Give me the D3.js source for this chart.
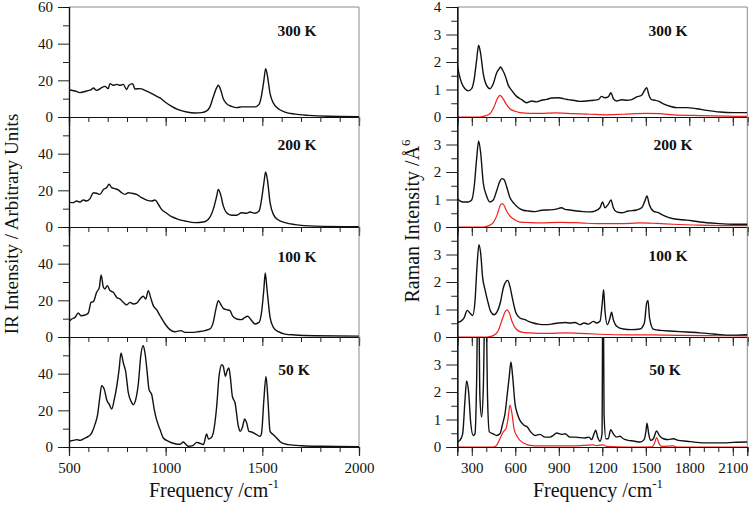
<!DOCTYPE html>
<html>
<head>
<meta charset="utf-8">
<script src="https://cdn.jsdelivr.net/npm/d3@7"></script>
<style>
  body { margin: 0; background: #fff; }
</style>
</head>
<body>
<svg id="chart" width="750" height="510"></svg>
<script>
const fontFamily = `"Liberation Serif", "Times New Roman", Times, serif`;

// temperatures, top to bottom
const temps = ["300 K", "200 K", "100 K", "50 K"];

// IR spectra [frequency cm-1, intensity arb. units]
const ir300 = [[500,14.9],[531,14.2],[557,13.3],[591,14.2],[617,15.1],[626,15.8],[643,14.5],[669,16],[686,16.7],[703,15.5],[712,18.2],[729,17.3],[747,17.8],[764,17.3],[781,17.8],[798,15],[810,17.3],[829,18.2],[841,15.3],[867,15.5],[893,14.5],[919,13.3],[945,11.8],[971,10.4],[997,8.2],[1031,5.8],[1065,4],[1109,2.7],[1152,2.2],[1186,2.4],[1212,3.3],[1229,5.5],[1246,10.9],[1264,16],[1272,17.3],[1284,15],[1298,10],[1315,7.3],[1341,5.8],[1367,5.1],[1393,5.5],[1427,5.5],[1462,5.5],[1483,6.9],[1496,11.8],[1508,20],[1517,26.4],[1526,22.7],[1540,12.7],[1557,7.6],[1583,4.5],[1617,2.7],[1669,1.6],[1738,0.9],[1841,0.4],[2000,0.2]];
const ir200 = [[500,13.6],[522,13.3],[540,14.2],[557,13.6],[574,14.7],[591,14.2],[609,15.5],[626,18.7],[643,18.4],[660,17.8],[678,20.5],[695,21.5],[707,23.3],[721,21.5],[738,20.9],[755,20.2],[772,18.7],[790,17.8],[807,18.7],[824,18.4],[850,17.8],[876,16],[902,14.7],[928,14.2],[945,14.7],[962,12.4],[979,9.6],[1005,7.5],[1031,5.6],[1065,4.2],[1100,3.3],[1152,2.4],[1195,2.7],[1221,4.2],[1246,9.6],[1264,16.9],[1272,20.5],[1284,17.8],[1298,11.5],[1315,7.8],[1341,6.4],[1367,6.4],[1393,7.8],[1419,7.5],[1436,8.2],[1462,7.5],[1483,8.7],[1496,15],[1508,24],[1517,30],[1526,26],[1540,13.3],[1557,6.9],[1583,3.8],[1617,2.4],[1669,1.3],[1772,0.5],[2000,0.2]];
const ir100 = [[500,8.4],[514,9.8],[531,10.7],[548,13.1],[562,11.6],[583,12],[600,13.1],[614,18.9],[626,19.3],[643,24.4],[657,27.1],[666,33.8],[678,27.1],[686,26.2],[698,28],[712,25.3],[729,24.4],[747,21.6],[764,20.7],[781,18.9],[798,17.5],[815,18.9],[833,18],[850,18.5],[867,20.7],[884,22.2],[897,20.7],[910,25.3],[922,21.6],[936,17.1],[953,14.9],[971,11.6],[997,7.1],[1022,4],[1048,2.9],[1079,3.5],[1100,2.5],[1134,2.5],[1169,2.9],[1203,3.5],[1229,4.4],[1246,8],[1260,15.3],[1272,19.8],[1284,18],[1298,15.6],[1315,14.9],[1333,14.4],[1345,11.6],[1367,9.8],[1393,9.5],[1410,10.7],[1424,11.3],[1445,8.9],[1462,7.1],[1483,8],[1496,13.5],[1508,26.2],[1515,34.9],[1524,26.2],[1540,10.7],[1557,5.3],[1583,2.9],[1617,1.6],[1669,1.1],[1772,0.7],[2000,0.5]];
const ir50 = [[500,3.1],[522,3.6],[540,4],[557,3.6],[583,4.9],[600,5.8],[617,7.6],[634,12.2],[648,17.6],[660,27.6],[669,33.5],[683,31.3],[695,25.8],[709,23.1],[721,20.7],[734,25.8],[747,33.1],[759,42.2],[769,51.3],[781,45.8],[793,41.3],[807,29.5],[821,24.9],[833,23.1],[845,25.8],[859,34.9],[872,50.4],[884,55.3],[893,51.3],[903,42.2],[914,31.3],[928,28.5],[941,20.4],[953,14.9],[971,9.5],[988,4.9],[1014,3.1],[1048,1.8],[1074,1.5],[1091,2.7],[1103,1.6],[1117,0.4],[1143,0.9],[1160,2.5],[1172,2.2],[1195,1.3],[1212,7.1],[1221,4.4],[1234,4.9],[1246,7.6],[1264,22.2],[1276,38.5],[1290,44.9],[1298,44],[1309,38.5],[1317,41.3],[1327,43.1],[1334,38.5],[1345,27.6],[1359,24],[1376,11.3],[1386,8.5],[1396,10.4],[1409,15.3],[1419,13.1],[1431,8.5],[1445,8.2],[1462,7.3],[1488,5.8],[1496,7.6],[1508,25.8],[1519,38.5],[1529,25.8],[1540,8.5],[1557,6.7],[1574,4.9],[1600,2.2],[1634,1.3],[1703,0.7],[1807,0.4],[2000,0.2]];

// Raman spectra [frequency cm-1, intensity Å^6], black = total, red = component
const raman300 = [[200,1.88],[214,1.52],[232,1.21],[253,1.03],[276,0.95],[299,1.03],[315,1.33],[333,2.06],[347,2.61],[361,2.3],[379,1.58],[402,1.15],[425,1.03],[448,1.21],[471,1.6],[490,1.76],[499,1.82],[513,1.7],[529,1.52],[552,1.15],[575,0.97],[609,0.75],[644,0.63],[678,0.52],[713,0.58],[747,0.55],[782,0.61],[816,0.64],[851,0.69],[897,0.7],[931,0.67],[966,0.63],[1000,0.61],[1046,0.57],[1092,0.58],[1138,0.61],[1172,0.63],[1195,0.75],[1218,0.7],[1241,0.73],[1260,0.88],[1276,0.67],[1299,0.58],[1333,0.63],[1368,0.61],[1402,0.63],[1437,0.73],[1471,0.79],[1494,0.99],[1506,1.07],[1522,0.79],[1540,0.63],[1563,0.61],[1586,0.58],[1621,0.48],[1667,0.39],[1713,0.34],[1782,0.34],[1851,0.3],[1920,0.24],[2012,0.18],[2104,0.16],[2200,0.16]];
const raman300Red = [[200,0],[356,0],[391,0.04],[425,0.12],[453,0.36],[476,0.67],[494,0.79],[513,0.69],[536,0.48],[563,0.3],[598,0.21],[632,0.16],[701,0.13],[770,0.13],[885,0.15],[1000,0.12],[1115,0.1],[1230,0.08],[1345,0.1],[1506,0.13],[1598,0.12],[1690,0.08],[1874,0.05],[2200,0.02]];
const raman200 = [[200,1.03],[218,0.95],[241,0.91],[276,0.91],[299,0.98],[317,1.49],[333,2.46],[347,3.13],[361,2.7],[379,1.61],[402,1.13],[425,0.91],[448,0.98],[471,1.31],[494,1.67],[508,1.76],[522,1.73],[540,1.47],[563,1.07],[591,0.86],[621,0.7],[655,0.61],[690,0.58],[736,0.56],[782,0.61],[828,0.62],[874,0.64],[920,0.7],[943,0.64],[977,0.62],[1023,0.58],[1069,0.56],[1115,0.55],[1149,0.58],[1184,0.7],[1202,0.91],[1218,0.7],[1241,0.82],[1260,0.98],[1276,0.7],[1299,0.55],[1333,0.52],[1379,0.58],[1437,0.62],[1471,0.7],[1494,0.95],[1508,1.13],[1524,0.82],[1552,0.58],[1586,0.52],[1621,0.42],[1690,0.3],[1782,0.25],[1874,0.18],[1989,0.13],[2104,0.1],[2200,0.1]];
const raman200Red = [[200,0],[379,0],[414,0.04],[448,0.16],[476,0.46],[494,0.76],[508,0.85],[522,0.79],[540,0.58],[563,0.4],[591,0.28],[632,0.18],[701,0.16],[770,0.15],[908,0.17],[1046,0.15],[1184,0.12],[1322,0.12],[1460,0.15],[1575,0.13],[1690,0.1],[1874,0.07],[2200,0.05]];
const raman100 = [[200,0.53],[223,0.57],[246,0.69],[269,0.97],[287,0.87],[306,0.78],[322,1.3],[336,2.57],[349,3.36],[361,3.05],[375,2.15],[391,1.72],[407,1.36],[430,0.93],[453,0.81],[476,0.93],[499,1.3],[517,1.78],[536,2.02],[547,2.06],[563,1.84],[582,1.36],[605,0.87],[632,0.69],[667,0.63],[690,0.57],[724,0.51],[759,0.47],[805,0.45],[851,0.47],[897,0.51],[943,0.53],[977,0.51],[1012,0.53],[1046,0.45],[1074,0.51],[1104,0.47],[1138,0.57],[1161,0.51],[1184,0.57],[1200,1.24],[1209,1.72],[1218,0.99],[1235,0.45],[1253,0.69],[1264,0.9],[1276,0.63],[1299,0.39],[1345,0.29],[1402,0.27],[1460,0.29],[1490,0.51],[1506,1.24],[1515,1.33],[1526,0.69],[1552,0.29],[1598,0.24],[1690,0.21],[1782,0.18],[1874,0.15],[1966,0.11],[2058,0.07],[2127,0.07],[2200,0.08]];
const raman100Red = [[200,0],[402,0],[448,0.05],[483,0.24],[513,0.69],[531,0.93],[543,0.99],[559,0.87],[577,0.57],[605,0.29],[644,0.18],[701,0.15],[816,0.13],[954,0.15],[1046,0.13],[1184,0.1],[1368,0.08],[1552,0.08],[1736,0.06],[1920,0.05],[2200,0.04]];
const raman50 = [[200,0.18],[218,0.24],[237,0.48],[253,1.7],[264,2.4],[278,2],[292,0.91],[310,0.42],[322,0.48],[333,2.3],[345,7],[356,1.82],[368,1.09],[379,2.06],[395,6.5],[409,1.7],[421,0.55],[448,0.48],[471,0.42],[494,0.48],[513,0.85],[529,1.21],[545,1.94],[559,2.6],[570,3.09],[582,2.55],[598,1.58],[614,1.21],[632,0.97],[660,0.79],[683,0.73],[706,0.55],[736,0.42],[770,0.46],[805,0.36],[839,0.36],[862,0.42],[885,0.51],[920,0.46],[943,0.48],[977,0.36],[1012,0.36],[1046,0.34],[1081,0.33],[1108,0.36],[1126,0.27],[1143,0.48],[1154,0.61],[1168,0.36],[1184,0.21],[1198,0.48],[1205,7.5],[1212,1.2],[1225,0.3],[1241,0.3],[1258,0.63],[1276,0.48],[1299,0.36],[1322,0.39],[1345,0.3],[1379,0.24],[1414,0.22],[1460,0.18],[1488,0.27],[1502,0.61],[1508,0.87],[1520,0.48],[1533,0.24],[1552,0.3],[1575,0.58],[1593,0.42],[1621,0.3],[1655,0.27],[1690,0.3],[1724,0.24],[1782,0.21],[1851,0.17],[1920,0.15],[2035,0.15],[2104,0.17],[2200,0.18]];
const raman50Red = [[200,0],[448,0],[471,0.06],[494,0.3],[517,0.55],[536,0.67],[550,1.03],[563,1.52],[577,1.21],[591,0.67],[609,0.42],[632,0.24],[667,0.12],[701,0.06],[770,0.04],[1000,0.04],[1138,0.08],[1161,0.05],[1205,0.08],[1230,0.02],[1368,0],[1540,0.01],[1559,0.12],[1575,0.34],[1589,0.15],[1609,0.02],[1690,0.04],[1713,0],[2200,0]];

// tick values
const irTicksX = [500, 1000, 1500, 2000];
const irTicksY = [0, 20, 40, 60];
const ramanTicksX = [300, 600, 900, 1200, 1500, 1800, 2100];
const ramanTicksY = [0, 1, 2, 3, 4];

// layout
const panelTops = [7, 117, 227, 337];
const panelH = 110;
const plotW = 290;

const irLabelPos = [[297, 36], [297, 150], [297, 262], [294, 375]];
const ramanLabelPos = [[668, 36], [673, 150], [668, 261], [665, 375]];

const svg = d3.select("#chart").attr("font-family", fontFamily);

const charts = [
  {
    id: "ir",
    left: 69,
    xDomain: [500, 2000],
    yMax: 60,
    xMajor: irTicksX,
    xMinor: d3.range(500, 2001, 100),
    yMajor: irTicksY,
    yMinor: d3.range(10, 60, 20),
    black: [ir300, ir200, ir100, ir50],
    red: null,
    labelPos: irLabelPos,
  },
  {
    id: "raman",
    left: 457.3,
    xDomain: [200, 2200],
    yMax: 4,
    xMajor: ramanTicksX,
    xMinor: d3.range(200, 2201, 100),
    yMajor: ramanTicksY,
    yMinor: d3.range(0.5, 4, 1),
    black: [raman300, raman200, raman100, raman50],
    red: [raman300Red, raman200Red, raman100Red, raman50Red],
    labelPos: ramanLabelPos,
  },
];

charts.forEach(renderChart);
renderTitles();

function renderChart(c) {
  const x = d3.scaleLinear().domain(c.xDomain).range([c.left, c.left + plotW]);
  const g = svg.append("g").attr("id", c.id);

  panelTops.forEach((top, i) => {
    const bottom = top + panelH;
    const y = d3.scaleLinear().domain([0, c.yMax]).range([bottom, top]);
    const isLast = i === panelTops.length - 1;
    const clipId = `clip-${c.id}-${i}`;

    g.append("clipPath")
      .attr("id", clipId)
      .append("rect")
      .attr("x", c.left)
      .attr("y", top)
      .attr("width", plotW)
      .attr("height", panelH);

    const panel = g.append("g").attr("class", "panel");

    // frame: right (and top for first panel) in grey
    panel
      .append("line")
      .attr("x1", c.left + plotW)
      .attr("x2", c.left + plotW)
      .attr("y1", top)
      .attr("y2", bottom)
      .attr("stroke", "#8a8a8a")
      .attr("stroke-width", 1);
    if (i === 0) {
      panel
        .append("line")
        .attr("x1", c.left)
        .attr("x2", c.left + plotW)
        .attr("y1", top)
        .attr("y2", top)
        .attr("stroke", "#8a8a8a")
        .attr("stroke-width", 1);
    }

    // spectra
    const line = d3
      .line()
      .x((d) => x(d[0]))
      .y((d) => y(d[1]))
      .curve(d3.curveMonotoneX);

    const curves = panel.append("g").attr("clip-path", `url(#${clipId})`);
    if (c.red) {
      curves
        .append("path")
        .datum(c.red[i])
        .attr("fill", "none")
        .attr("stroke", "#f02020")
        .attr("stroke-width", 1.2)
        .attr("d", line);
    }
    curves
      .append("path")
      .datum(c.black[i])
      .attr("fill", "none")
      .attr("stroke", "#111")
      .attr("stroke-width", 1.4)
      .attr("stroke-linejoin", "round")
      .attr("d", line);

    // y axis
    const yLabels = i === 0 ? c.yMajor : c.yMajor.slice(0, -1);
    const yAxis = panel
      .append("g")
      .attr("transform", `translate(${c.left},0)`)
      .call(
        d3.axisLeft(y).tickValues(c.yMajor).tickSize(11).tickPadding(5)
          .tickFormat((d) => (yLabels.includes(d) ? d : ""))
      );
    panel
      .append("g")
      .attr("transform", `translate(${c.left},0)`)
      .call(d3.axisLeft(y).tickValues(c.yMinor).tickSize(6).tickFormat(""));

    // x axis (outward ticks at the bottom of every panel)
    const xAxis = panel
      .append("g")
      .attr("transform", `translate(0,${bottom})`)
      .call(
        d3.axisBottom(x).tickValues(c.xMajor).tickSize(9).tickPadding(6)
          .tickFormat((d) => (isLast ? d : ""))
      );
    panel
      .append("g")
      .attr("transform", `translate(0,${bottom})`)
      .call(d3.axisBottom(x).tickValues(c.xMinor).tickSize(5).tickFormat(""));

    panel.selectAll(".domain").attr("stroke", "#111").attr("stroke-width", 1.2);
    panel.selectAll(".tick line").attr("stroke", "#222");
    panel
      .selectAll(".tick text")
      .attr("font-family", fontFamily)
      .attr("font-size", 15)
      .attr("fill", "#111");

    // temperature label
    const [lx, ly] = c.labelPos[i];
    panel
      .append("text")
      .attr("x", lx)
      .attr("y", ly)
      .attr("text-anchor", "middle")
      .attr("font-weight", "bold")
      .attr("font-size", 15.5)
      .attr("fill", "#111")
      .text(temps[i]);
  });
}

function renderTitles() {
  const titles = svg.append("g").attr("id", "titles").attr("fill", "#111");

  // x titles
  [[214, 497], [598, 497]].forEach(([cx, cy]) => {
    const t = titles
      .append("text")
      .attr("x", cx)
      .attr("y", cy)
      .attr("text-anchor", "middle")
      .attr("font-size", 20);
    t.append("tspan").text("Frequency /cm");
    t.append("tspan").attr("dy", -9).attr("font-size", 13).text("-1");
  });

  titles
    .append("text")
    .attr("transform", "translate(18,224) rotate(-90)")
    .attr("text-anchor", "middle")
    .attr("font-size", 19)
    .text("IR Intensity / Arbitrary Units");

  const raman = titles
    .append("text")
    .attr("transform", "translate(419,221) rotate(-90)")
    .attr("text-anchor", "middle")
    .attr("font-size", 20);
  raman.append("tspan").text("Raman Intensity /Å");
  raman.append("tspan").attr("dy", -9).attr("font-size", 13).text("6");
}
</script>
</body>
</html>
